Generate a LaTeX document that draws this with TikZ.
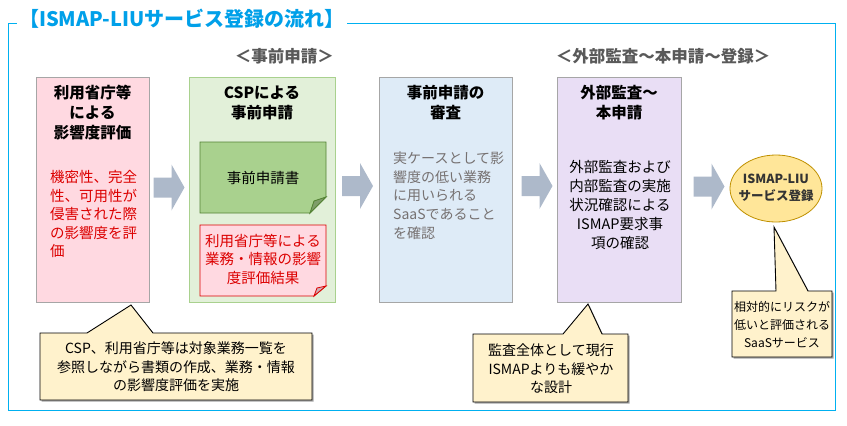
\documentclass[tikz,border=0pt]{standalone}
\usepackage{fontspec}
\setmainfont{Noto Sans CJK JP}
\usetikzlibrary{calc}
\definecolor{FrameClr}{RGB}{0,176,240}
\definecolor{TitleClr}{RGB}{0,160,233}
\definecolor{HeadClr}{RGB}{89,89,89}
\definecolor{PinkClr}{RGB}{255,217,225}
\definecolor{GreenClr}{RGB}{226,240,217}
\definecolor{GreenLine}{RGB}{169,209,142}
\definecolor{DocClr}{RGB}{169,209,142}
\definecolor{DocLine}{RGB}{84,130,53}
\definecolor{BlueClr}{RGB}{222,235,247}
\definecolor{PurpleClr}{RGB}{233,222,245}
\definecolor{BoxLine}{RGB}{166,166,166}
\definecolor{ArrowClr}{RGB}{173,185,202}
\definecolor{RedTxt}{RGB}{220,0,0}
\definecolor{GreyTxt}{RGB}{118,113,113}
\definecolor{NoteClr}{RGB}{255,242,204}
\definecolor{GoldClr}{RGB}{255,230,153}
\definecolor{GoldLine}{RGB}{191,144,0}

\begin{document}
\begin{tikzpicture}[x=1pt,y=-1pt,
  stage/.style={draw=BoxLine,line width=0.8pt,minimum width=#1,minimum height=225,inner sep=0pt},
  boxtitle/.style={align=center,inner sep=0pt,font=\bfseries\fontsize{15.5}{20}\selectfont},
  bodytxt/.style={inner sep=0pt,font=\fontsize{14.5}{18.5}\selectfont},
  phase/.style={text=HeadClr,inner sep=0pt,font=\bfseries\fontsize{16.5}{20}\selectfont},
  flow/.pic={\fill[ArrowClr] (-15.5,-10) -- (2.5,-10) -- (2.5,-23) -- (15.5,0) -- (2.5,23) -- (2.5,10) -- (-15.5,10) -- cycle;},
  note/.style={fill=NoteClr,draw=black,line width=0.9pt,
    preaction={fill=black!35,transform canvas={shift={(1.5pt,-1.5pt)}}}},
  notetxt/.style={align=center,inner sep=0pt,font=\fontsize{14}{18.5}\selectfont}]
\useasboundingbox (0,0) rectangle (847,426);

\draw[FrameClr,line width=1pt] (8,23) rectangle (835,410);
\node[anchor=west,fill=white,text=TitleClr,inner xsep=2pt,inner ysep=1pt,
  font=\bfseries\fontsize{20}{22}\selectfont] (title) at (17,19) {【ISMAP-LIUサービス登録の流れ】};

\node[phase,anchor=east] (pre) at (334,56) {＜事前申請＞};
\node[phase] (main) at (663,56) {＜外部監査～本申請～登録＞};

\node[stage=113,fill=PinkClr] (eval) at (92.5,190) {};
\node[stage=146,fill=GreenClr,draw=GreenLine] (preapp) at (262,190) {};
\node[stage=133,fill=BlueClr] (review) at (445.5,189.5) {};
\node[stage=124,fill=PurpleClr] (audit) at (619,189.5) {};
\filldraw[fill=GoldClr,draw=GoldLine,line width=0.8pt] (776,188.5) ellipse [x radius=46pt,y radius=33.5pt];
\node[align=center,inner sep=0pt,text=black!80,font=\bfseries\fontsize{12.5}{17}\selectfont] (reg) at (776,188) {ISMAP-LIU\\サービス登録};

\pic (f1) at (169,187.5) {flow};
\pic (f2) at (357.5,186) {flow};
\pic (f3) at (537,186) {flow};
\pic (f4) at (709,186.5) {flow};

\node[boxtitle] (eval-t) at (eval.center |- 0,113) {利用省庁等\\による\\影響度評価};
\node[bodytxt,text=RedTxt,align=left,anchor=west] (eval-b) at (50,214) {機密性、完全\\性、可用性が\\侵害された際\\の影響度を評\\価};

\node[boxtitle] (preapp-t) at (preapp.center |- 0,103) {CSPによる\\事前申請};
\filldraw[fill=DocClr,draw=DocLine,line width=0.8pt] (200,142) -- (326,142) -- (326,197) -- (310,213) -- (200,213) -- cycle;
\filldraw[fill=DocClr!75!black,draw=DocLine,line width=0.8pt] (326,197) -- (310,213) -- (314,201) -- cycle;
\node[bodytxt] (form) at (263,178) {事前申請書};
\filldraw[fill=PinkClr,draw=RedTxt,line width=0.8pt] (200,225) -- (326,225) -- (326,286) -- (314,296) -- (200,296) -- cycle;
\filldraw[fill=PinkClr!80!black,draw=RedTxt,line width=0.8pt] (326,286) -- (314,296) -- (317,288) -- cycle;
\node[bodytxt,text=RedTxt,align=center] (result) at (263,259) {利用省庁等による\\業務・情報の影響\\度評価結果};

\node[boxtitle] (review-t) at (review.center |- 0,103) {事前申請の\\審査};
\node[bodytxt,text=GreyTxt,align=left,anchor=west,font=\fontsize{14}{18.7}\selectfont] (review-b) at (393,195.5) {実ケースとして影\\響度の低い業務\\に用いられる\\SaaSであること\\を確認};

\node[boxtitle] (audit-t) at (audit.center |- 0,103) {外部監査～\\本申請};
\node[bodytxt,align=center,font=\fontsize{14.5}{19}\selectfont] (audit-b) at (620,205) {外部監査および\\内部監査の実施\\状況確認による\\ISMAP要求事\\項の確認};

\filldraw[note] (40,333) -- (87,333) -- (131,305) -- (153,333) -- (312,333) -- (312,400) -- (40,400) -- cycle;
\node[notetxt] (note-eval) at (176,367) {CSP、利用省庁等は対象業務一覧を\\参照しながら書類の作成、業務・情報\\の影響度評価を実施};

\filldraw[note] (473,334) -- (563,334) -- (588,304) -- (602,334) -- (628,334) -- (628,402) -- (473,402) -- cycle;
\node[notetxt] (note-audit) at (551,369) {監査全体として現行\\ISMAPよりも緩やか\\な設計};

\filldraw[note] (732,291) -- (776,291) -- (774,227) -- (808,291) -- (832,291) -- (832,357) -- (732,357) -- cycle;
\node[notetxt,font=\fontsize{12}{18}\selectfont] (note-reg) at (782,325) {相対的にリスクが\\低いと評価される\\SaaSサービス};

\end{tikzpicture}
\end{document}
